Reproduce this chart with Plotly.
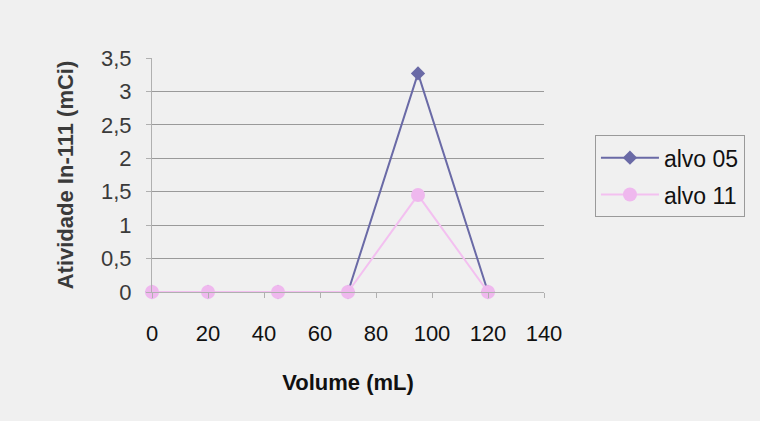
import plotly.graph_objects as go

volume = [0, 20, 45, 70, 95, 120]
alvo05 = [0, 0, 0, 0, 3.27, 0]
alvo11 = [0, 0, 0, 0, 1.45, 0]
series_names = ["alvo 05", "alvo 11"]

fig = go.Figure()
fig.add_trace(go.Scatter(x=volume, y=alvo05, mode="lines+markers", name=series_names[0],
                         legendgroup="a", cliponaxis=False,
                         line=dict(color="#6a6aa6", width=2),
                         marker=dict(symbol="diamond", size=11, color="#6a6aa6")))
fig.add_trace(go.Scatter(x=volume, y=alvo11, mode="lines+markers", name=series_names[1],
                         legendgroup="b", cliponaxis=False,
                         line=dict(color="#f3c0f0", width=2),
                         marker=dict(symbol="circle", size=14, color="#efb8ee")))

font = "Liberation Sans, Arial, sans-serif"
fig.update_layout(
    width=760, height=421,
    margin=dict(l=152, r=216, t=58, b=129),
    paper_bgcolor="#f0f0f0", plot_bgcolor="#f0f0f0",
    separators=", ",
    font=dict(family=font, size=22, color="#222"),
    showlegend=True,
    legend=dict(x=1.13, y=0.67, xanchor="left", yanchor="top",
                bgcolor="#f0f0f0", bordercolor="#9a9a9a", borderwidth=1,
                font=dict(size=23, color="#111"), tracegroupgap=4, itemwidth=58),
    xaxis=dict(range=[0, 140], tickvals=[0, 20, 40, 60, 80, 100, 120, 140],
               showgrid=False, zeroline=False, showline=True, linecolor="#b0b0b0",
               ticks="outside", tickcolor="#b0b0b0", ticklen=5, ticklabelstandoff=17,
               tickfont=dict(size=22, color="#111"),
               title=dict(text="<b>Volume (mL)</b>", font=dict(size=22, color="#111"), standoff=29)),
    yaxis=dict(range=[0, 3.5], dtick=0.5, tickformat=".1~f",
               showgrid=True, gridcolor="#9a9a9a", gridwidth=1, zeroline=False,
               showline=True, linecolor="#b0b0b0", ticks="outside", tickcolor="#b0b0b0", ticklen=5,
               ticklabelstandoff=10, tickfont=dict(size=22, color="#3a3a3a"),
               title=dict(text="<b>Atividade In-111 (mCi)</b>", font=dict(size=22, color="#3a3a3a"), standoff=21)),
)
fig.write_html("out.html")
